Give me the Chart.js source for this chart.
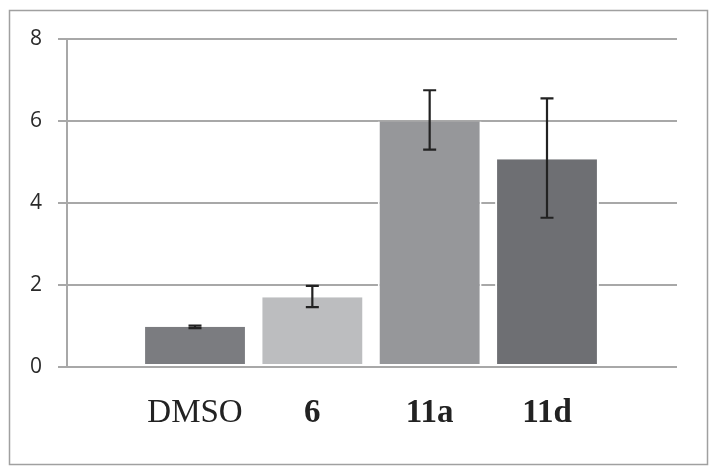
<!DOCTYPE html>
<html>
<head>
<meta charset="utf-8">
<script src="https://cdn.jsdelivr.net/npm/chart.js@4"></script>
<style>
  html, body { margin: 0; padding: 0; background: #fff; }
  #wrap { position: relative; width: 714px; height: 474px; }
</style>
</head>
<body>
<div id="wrap"><canvas id="c" width="714" height="474"></canvas></div>
<script>
// ---- data ----
const categories = ['DMSO', '6', '11a', '11d'];
const values     = [0.98, 1.70, 5.99, 5.07];
const errLow     = [0.95, 1.46, 5.30, 3.64];
const errHigh    = [1.01, 1.98, 6.75, 6.55];
const barColors  = ['#7b7c80', '#bcbdbf', '#96979a', '#6e6f73'];
const yTicks     = [0, 2, 4, 6, 8];

const gridColor = '#a8a8a8';

const framePlugin = {
  id: 'frame',
  beforeDraw(chart) {
    const ctx = chart.ctx;
    ctx.save();
    ctx.fillStyle = '#ffffff';
    ctx.fillRect(0, 0, chart.width, chart.height);
    ctx.strokeStyle = '#a0a0a0';
    ctx.lineWidth = 1.5;
    ctx.strokeRect(9.5, 10.5, 698, 454);
    ctx.restore();
  }
};

const errorBarPlugin = {
  id: 'errorBars',
  afterDatasetsDraw(chart) {
    const ctx = chart.ctx;
    const meta = chart.getDatasetMeta(0);
    const y = chart.scales.y;
    ctx.save();
    ctx.strokeStyle = '#222222';
    ctx.lineWidth = 2.2;
    meta.data.forEach((bar, i) => {
      const x = bar.x;
      const yt = y.getPixelForValue(errHigh[i]);
      const yb = y.getPixelForValue(errLow[i]);
      const cap = 6.5;
      ctx.beginPath();
      ctx.moveTo(x, yt); ctx.lineTo(x, yb);
      ctx.moveTo(x - cap, yt); ctx.lineTo(x + cap, yt);
      ctx.moveTo(x - cap, yb); ctx.lineTo(x + cap, yb);
      ctx.stroke();
    });
    ctx.restore();
  }
};

new Chart(document.getElementById('c'), {
  type: 'bar',
  data: {
    datasets: [{
      data: categories.map((c, i) => ({ x: i, y: values[i] })),
      backgroundColor: barColors,
      borderColor: '#ffffff',
      borderWidth: { top: 0, left: 2, right: 2, bottom: 2 },
      borderSkipped: false,
      barPercentage: 0.885,
      categoryPercentage: 1.0
    }]
  },
  options: {
    responsive: false,
    animation: false,
    devicePixelRatio: 1,
    layout: { padding: { top: 39, right: 37, bottom: 0, left: 0 } },
    plugins: { legend: { display: false }, tooltip: { enabled: false } },
    scales: {
      x: {
        type: 'linear',
        min: -1.091,
        max: 4.108,
        offset: false,
        afterBuildTicks(axis) { axis.ticks = categories.map((_, i) => ({ value: i })); },
        afterFit(axis) { axis.height = 107; },
        grid: { display: false, drawTicks: false },
        border: { display: false },
        ticks: {
          autoSkip: false,
          maxRotation: 0,
          padding: 27,
          color: '#222222',
          callback: (v) => categories[v],
          font: (ctx) => ({
            family: "'Liberation Serif', 'DejaVu Serif', serif",
            size: 33,
            weight: ctx.index === 0 ? 'normal' : 'bold'
          })
        }
      },
      y: {
        min: 0,
        max: 8,
        afterBuildTicks(axis) { axis.ticks = yTicks.map(v => ({ value: v })); },
        afterFit(axis) { axis.width = 67; },
        grid: { color: gridColor, lineWidth: 2, tickLength: 9, drawTicks: true },
        border: { display: true, color: gridColor, width: 2 },
        ticks: {
          padding: 16,
          color: '#2a2a2a',
          font: { family: "'Open Sans', sans-serif", size: 21 }
        }
      }
    }
  },
  plugins: [framePlugin, errorBarPlugin]
});
</script>
</body>
</html>
